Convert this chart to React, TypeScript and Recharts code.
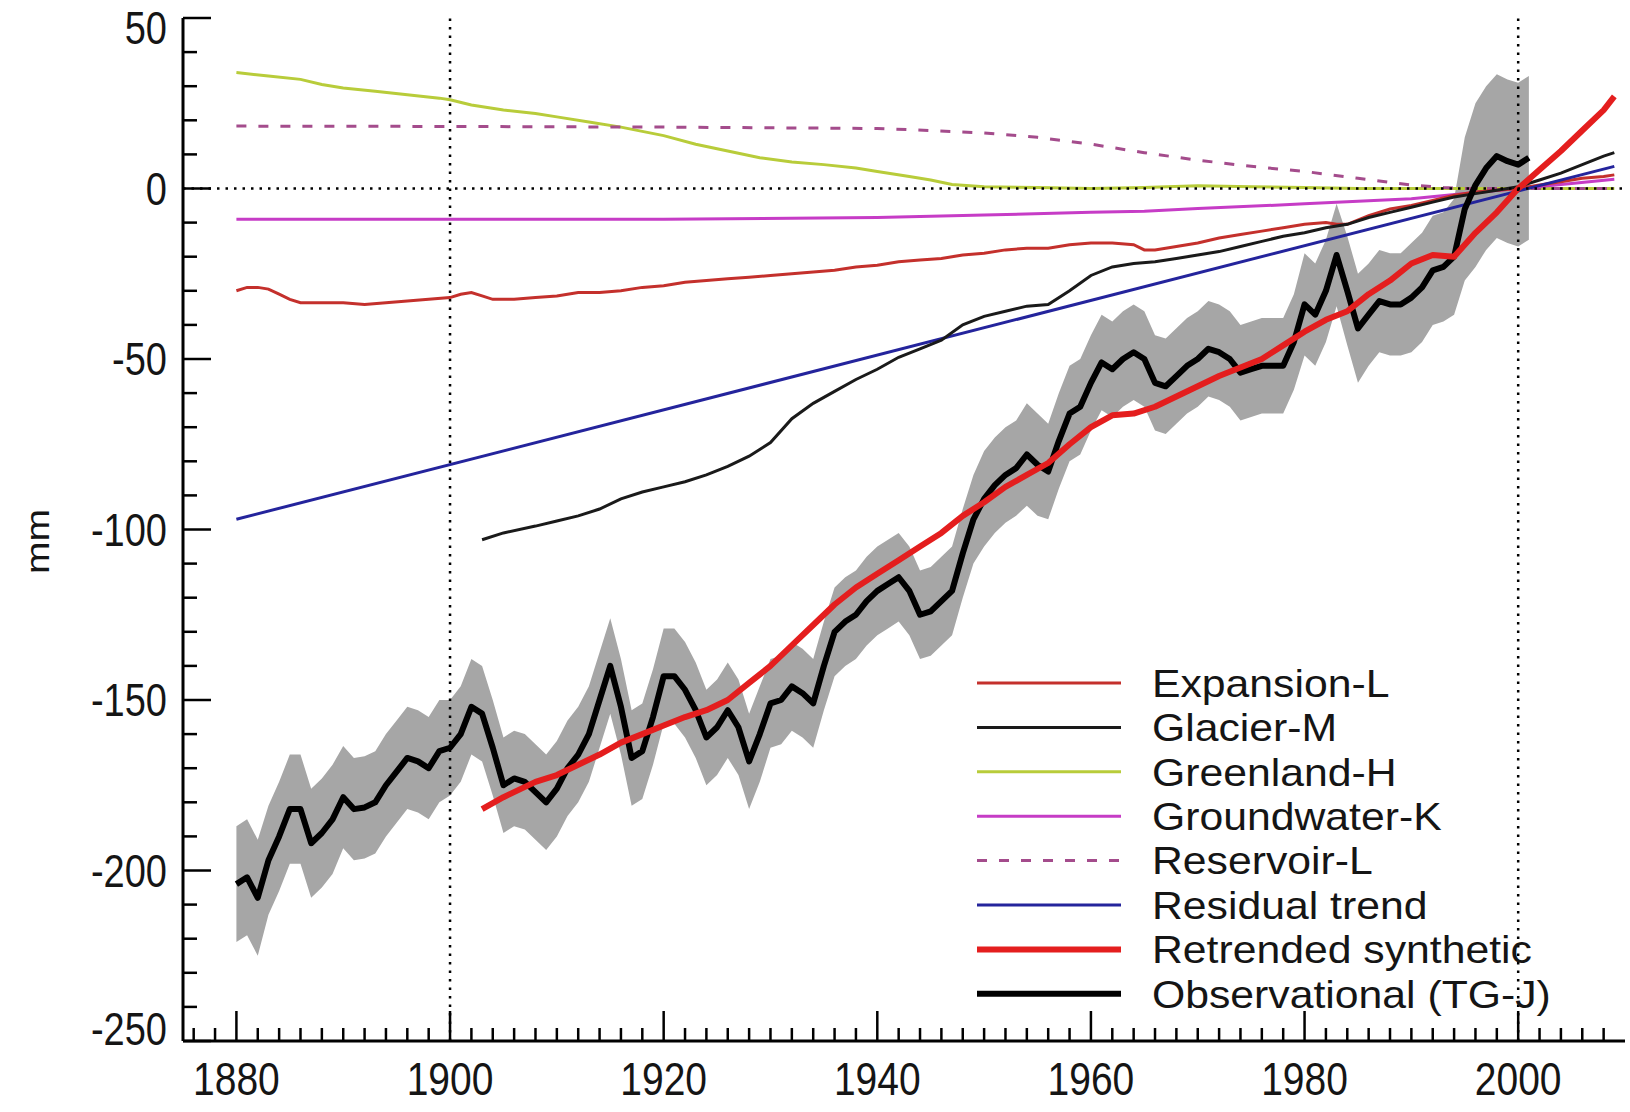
import React from 'react';
import { ComposedChart, Line, Area, XAxis, YAxis, ReferenceLine, Legend } from 'recharts';

// ---------- data ----------
const obsStartYear = 1880;
const obsValues = [
  -204, -202, -208, -197, -190, -182, -182, -192, -189, -185,
  -178.5, -182, -181.5, -180, -175, -171, -167, -168, -170, -165,
  -164, -160, -152, -154, -164, -175, -173, -174, -177, -180,
  -176, -170, -166, -160, -150, -140, -152, -167, -165, -155,
  -143, -143, -147, -153, -161, -158, -153, -158, -168, -160,
  -151, -150, -146, -148, -151, -140, -130, -127, -125, -121,
  -118, -116, -114, -118, -125, -124, -121, -118, -107, -97,
  -91, -87, -84, -82, -78, -81, -83, -74, -66, -64,
  -57, -51, -53, -50, -48, -50, -57, -58, -55, -52,
  -50, -47, -48, -50, -54, -53, -52, -52, -52, -45,
  -34, -37, -30, -19.5, -30, -41, -37, -33, -34, -34,
  -32, -29, -24, -23, -20, -6, 1, 6, 9.5, 8,
  7, 9,
];
const obsUncertainty = [
  17, 17, 17, 16, 16, 16, 16, 16, 16, 16,
  15, 15, 15, 15, 15, 15, 15, 15, 15, 15,
  14, 14, 14, 14, 14, 14, 14, 14, 14, 14,
  14, 14, 14, 14, 14, 14, 14, 14, 14, 14,
  14, 14, 14, 14, 14, 14, 14, 14, 14, 14,
  13, 13, 13, 13, 13, 13, 13, 13, 13, 13,
  13, 13, 13, 13, 13, 13, 13, 13, 13, 13,
  14, 14, 14, 14, 15, 15, 14, 14, 14, 14,
  14, 14, 14, 14, 14, 14, 14, 14, 14, 14,
  14, 14, 14, 14, 14, 14, 14, 14, 14, 14,
  15, 15, 15, 15, 16, 16, 15, 15, 15, 15,
  16, 16, 16, 16, 17, 21, 24, 24, 24, 24,
  24, 24,
];

const expansion: [number, number][] = [
  [1880, -30], [1881, -29], [1882, -29], [1883, -29.5], [1884, -31], [1885, -32.5], [1886, -33.5],
  [1888, -33.5], [1890, -33.5], [1892, -34], [1894, -33.5], [1896, -33], [1898, -32.5], [1900, -32],
  [1901, -31], [1902, -30.5], [1903, -31.5], [1904, -32.5], [1906, -32.5], [1908, -32], [1910, -31.5],
  [1912, -30.5], [1914, -30.5], [1916, -30], [1918, -29], [1920, -28.5], [1922, -27.5], [1924, -27],
  [1926, -26.5], [1928, -26], [1930, -25.5], [1932, -25], [1934, -24.5], [1936, -24], [1938, -23],
  [1940, -22.5], [1942, -21.5], [1944, -21], [1946, -20.5], [1948, -19.5], [1950, -19], [1952, -18],
  [1954, -17.5], [1956, -17.5], [1958, -16.5], [1960, -16], [1962, -16], [1964, -16.5], [1965, -18],
  [1966, -18], [1968, -17], [1970, -16], [1972, -14.5], [1974, -13.5], [1976, -12.5], [1978, -11.5],
  [1980, -10.5], [1982, -10], [1983, -10.5], [1984, -10.5], [1986, -8], [1988, -6], [1990, -5],
  [1992, -3.5], [1994, -2], [1996, -1], [1998, -0.5], [2000, 0], [2002, 1], [2004, 2], [2006, 3],
  [2008, 3.5], [2009, 4],
];

const glacier: [number, number][] = [
  [1903, -103], [1905, -101], [1908, -99], [1910, -97.5], [1912, -96], [1914, -94], [1916, -91],
  [1918, -89], [1920, -87.5], [1922, -86], [1924, -84], [1926, -81.5], [1928, -78.5], [1930, -74.5],
  [1932, -67.5], [1934, -63], [1936, -59.5], [1938, -56], [1940, -53], [1942, -49.5], [1944, -47],
  [1946, -44.5], [1948, -40], [1950, -37.5], [1952, -36], [1954, -34.5], [1956, -34], [1958, -30],
  [1960, -25.5], [1962, -23], [1964, -22], [1966, -21.5], [1968, -20.5], [1970, -19.5], [1972, -18.5],
  [1974, -17], [1976, -15.5], [1978, -14], [1980, -13], [1982, -11.5], [1984, -10.5], [1986, -8.5],
  [1988, -7], [1990, -5.5], [1992, -4], [1994, -2.5], [1996, -1.5], [1998, -0.5], [2000, 0.5],
  [2002, 2.5], [2004, 4.5], [2006, 7], [2008, 9.5], [2009, 10.5],
];

const greenland: [number, number][] = [
  [1880, 34], [1883, 33], [1886, 32], [1888, 30.5], [1890, 29.5], [1893, 28.5], [1896, 27.5],
  [1899, 26.5], [1900, 26], [1902, 24.5], [1905, 23], [1908, 22], [1910, 21], [1913, 19.5],
  [1916, 18], [1920, 15.5], [1923, 13], [1926, 11], [1929, 9], [1932, 7.8], [1935, 7], [1938, 6],
  [1940, 5], [1943, 3.5], [1945, 2.5], [1947, 1.2], [1950, 0.5], [1955, 0.3], [1960, 0], [1965, 0.3],
  [1970, 0.8], [1975, 0.5], [1980, 0.3], [1985, 0], [1990, 0], [1995, 0], [2000, 0], [2005, 0],
  [2009, 0],
];

const groundwater: [number, number][] = [
  [1880, -9], [1900, -9], [1920, -9], [1940, -8.5], [1950, -7.8], [1960, -7], [1965, -6.7],
  [1970, -5.9], [1980, -4.5], [1990, -3], [1995, -1.5], [2000, 0], [2005, 1.5], [2009, 2.7],
];

const reservoir: [number, number][] = [
  [1880, 18.3], [1900, 18.2], [1920, 18], [1940, 17.6], [1945, 17], [1950, 16.3], [1955, 15],
  [1960, 13], [1965, 10.5], [1970, 8.3], [1975, 6.5], [1980, 5], [1985, 3], [1990, 1], [1993, 0.3],
  [1995, 0], [2000, 0], [2009, 0],
];

const residual: [number, number][] = [
  [1880, -97], [2009, 6.5],
];

const retrended: [number, number][] = [
  [1903, -182], [1905, -178.5], [1908, -174], [1910, -172], [1912, -169], [1914, -166], [1916, -162.5],
  [1918, -160], [1920, -157.5], [1922, -155], [1924, -153], [1926, -150], [1928, -145], [1930, -140],
  [1932, -134], [1934, -128], [1936, -122], [1938, -117], [1940, -113], [1942, -109], [1944, -105],
  [1946, -101], [1948, -96], [1950, -92], [1952, -87.5], [1954, -84], [1956, -80.5], [1958, -75],
  [1960, -70], [1962, -66.5], [1964, -66], [1966, -64], [1968, -61], [1970, -58], [1972, -55],
  [1974, -52.5], [1976, -50], [1978, -46], [1980, -42], [1982, -38.5], [1984, -36], [1986, -31],
  [1988, -27], [1990, -22], [1992, -19.5], [1994, -20], [1996, -13], [1998, -7], [2000, 0],
  [2002, 5.5], [2004, 11], [2006, 17], [2008, 23], [2009, 27],
];

const xMajorLabels = [1880, 1900, 1920, 1940, 1960, 1980, 2000];
const xTickYears = [
  1876, 1878, 1880, 1882, 1884, 1886, 1888, 1890, 1892, 1894, 1896, 1898, 1900, 1902, 1904, 1906,
  1908, 1910, 1912, 1914, 1916, 1918, 1920, 1922, 1924, 1926, 1928, 1930, 1932, 1934, 1936, 1938,
  1940, 1942, 1944, 1946, 1948, 1950, 1952, 1954, 1956, 1958, 1960, 1962, 1964, 1966, 1968, 1970,
  1972, 1974, 1976, 1978, 1980, 1982, 1984, 1986, 1988, 1990, 1992, 1994, 1996, 1998, 2000, 2002,
  2004, 2006, 2008,
];
const yMajorLabels = [50, 0, -50, -100, -150, -200, -250];
const yTickValues = [
  50, 40, 30, 20, 10, 0, -10, -20, -30, -40, -50, -60, -70, -80, -90, -100, -110, -120, -130, -140,
  -150, -160, -170, -180, -190, -200, -210, -220, -230, -240, -250,
];

// ---------- tables built for recharts ----------
const toRows = (pairs: [number, number][]) => pairs.map(([year, v]) => ({ year, v }));
const obsRows = obsValues.map((v, i) => ({ year: obsStartYear + i, v }));
const bandRows = obsValues.map((v, i) => ({
  year: obsStartYear + i,
  range: [v - obsUncertainty[i], v + obsUncertainty[i]],
}));

const FONT = '"Liberation Sans", Arial, Helvetica, sans-serif';
const TEXT_FILL = '#151515';
const C = {
  expansion: '#c4302c',
  glacier: '#1a1a1a',
  greenland: '#b8cc3a',
  groundwater: '#c63cc6',
  reservoir: '#a44c8c',
  residual: '#24249c',
  retrended: '#e41e1e',
  obs: '#000000',
  band: '#a6a6a6',
};

const legendItems = [
  { name: 'Expansion-L', color: C.expansion, width: 3, dash: undefined as string | undefined },
  { name: 'Glacier-M', color: C.glacier, width: 3, dash: undefined },
  { name: 'Greenland-H', color: C.greenland, width: 3, dash: undefined },
  { name: 'Groundwater-K', color: C.groundwater, width: 3, dash: undefined },
  { name: 'Reservoir-L', color: C.reservoir, width: 3, dash: '10 12' },
  { name: 'Residual trend', color: C.residual, width: 3, dash: undefined },
  { name: 'Retrended synthetic', color: C.retrended, width: 6, dash: undefined },
  { name: 'Observational (TG-J)', color: C.obs, width: 6, dash: undefined },
];

const TICK_W = 2.5;
const STRETCH = 1.2;

const BottomTick = (props: any) => {
  const { x, y, payload } = props;
  const v = payload.value;
  const major = xMajorLabels.includes(v);
  return (
    <g>
      <line x1={x} y1={y} x2={x} y2={y - (major ? 30 : 13)} stroke="#000" strokeWidth={TICK_W} />
      {major && (
        <text x={0} y={0} transform={`translate(${x}, ${y + 54}) scale(1, ${STRETCH})`}
          textAnchor="middle" fontSize={39} fontFamily={FONT} fill={TEXT_FILL}>
          {v}
        </text>
      )}
    </g>
  );
};

const TopTick = (props: any) => {
  const { x, y, payload } = props;
  const major = xMajorLabels.includes(payload.value);
  return <line x1={x} y1={y} x2={x} y2={y + (major ? 30 : 13)} stroke="#000" strokeWidth={TICK_W} />;
};

const LeftTick = (props: any) => {
  const { x, y, payload } = props;
  const v = payload.value;
  const major = yMajorLabels.includes(v);
  const shift = v === 50 ? 10 : v === -250 ? -12 : 0;
  return (
    <g>
      <line x1={x} y1={y} x2={x + (major ? 28 : 14)} y2={y} stroke="#000" strokeWidth={TICK_W} />
      {major && (
        <text x={0} y={0} dy="0.36em" transform={`translate(${x - 16}, ${y + shift}) scale(1, ${STRETCH})`}
          textAnchor="end" fontSize={38} fontFamily={FONT} fill={TEXT_FILL}>
          {v}
        </text>
      )}
    </g>
  );
};

const RightTick = (props: any) => {
  const { x, y, payload } = props;
  const major = yMajorLabels.includes(payload.value);
  return <line x1={x} y1={y} x2={x - (major ? 28 : 14)} y2={y} stroke="#000" strokeWidth={TICK_W} />;
};

const MmLabel = (props: any) => {
  const vb = props.viewBox || { x: 0, y: 18, width: 183, height: 1023 };
  const cx = 37;
  const cy = vb.y + vb.height / 2 + 12;
  return (
    <text x={0} y={0} dy="0.36em" textAnchor="middle" fontSize={34} fontFamily={FONT} fill={TEXT_FILL}
      transform={`translate(${cx}, ${cy}) rotate(-90) scale(1.15, 1)`}>
      mm
    </text>
  );
};

const LegendContent = () => (
  <svg width={660} height={380} style={{ overflow: 'visible' }}>
    {legendItems.map((it, i) => {
      const cy = 28 + i * 44.4;
      return (
        <g key={it.name}>
          <line x1={7} x2={151} y1={cy} y2={cy} stroke={it.color} strokeWidth={it.width} strokeDasharray={it.dash} />
          <text x={0} y={0} dy="0.36em" transform={`translate(182, ${cy}) scale(1.11, 1)`}
            fontSize={38.5} fontFamily={FONT} fill={TEXT_FILL}>
            {it.name}
          </text>
        </g>
      );
    })}
  </svg>
);

const dotted = { stroke: '#000', strokeDasharray: '2.5 6', strokeWidth: 2.5 };
const thin = 3;

export default function App() {
  return (
    <div style={{ position: 'absolute', left: 0, top: 0, width: 1630, height: 1112, background: '#fff' }}>
      <ComposedChart width={1630} height={1112} margin={{ top: 18, right: 5, bottom: 0, left: 0 }}>
        <XAxis
          xAxisId="main" type="number" dataKey="year" domain={[1875, 2010]} allowDataOverflow
          ticks={xTickYears} interval={0} tickSize={0} tickMargin={0} tickLine={false}
          tick={<BottomTick />} height={71} axisLine={{ stroke: '#000', strokeWidth: 3 }}
        />
        <XAxis
          xAxisId="top" orientation="top" type="number" dataKey="year" domain={[1875, 2010]} allowDataOverflow
          ticks={xTickYears} interval={0} tickSize={0} tickMargin={0} tickLine={false}
          tick={<TopTick />} height={0} axisLine={{ stroke: '#000', strokeWidth: 3 }}
        />
        <YAxis
          yAxisId="left" type="number" domain={[-250, 50]} allowDataOverflow
          ticks={yTickValues} interval={0} tickSize={0} tickMargin={0} tickLine={false}
          tick={<LeftTick />} width={183} axisLine={{ stroke: '#000', strokeWidth: 3 }}
          label={<MmLabel />}
        />
        <YAxis
          yAxisId="right" orientation="right" type="number" domain={[-250, 50]} allowDataOverflow
          ticks={yTickValues} interval={0} tickSize={0} tickMargin={0} tickLine={false}
          tick={<RightTick />} width={0} axisLine={{ stroke: '#000', strokeWidth: 3 }}
        />

        <Area data={bandRows} dataKey="range" xAxisId="main" yAxisId="left" type="linear"
          stroke="none" fill={C.band} fillOpacity={1} isAnimationActive={false} activeDot={false} />

        <Line data={toRows(greenland)} dataKey="v" xAxisId="main" yAxisId="left" type="linear"
          stroke={C.greenland} strokeWidth={thin} dot={false} activeDot={false} isAnimationActive={false} />
        <Line data={toRows(reservoir)} dataKey="v" xAxisId="main" yAxisId="left" type="linear"
          stroke={C.reservoir} strokeWidth={3} strokeDasharray="10 12" dot={false} activeDot={false} isAnimationActive={false} />
        <Line data={toRows(groundwater)} dataKey="v" xAxisId="main" yAxisId="left" type="linear"
          stroke={C.groundwater} strokeWidth={thin} dot={false} activeDot={false} isAnimationActive={false} />
        <Line data={toRows(expansion)} dataKey="v" xAxisId="main" yAxisId="left" type="linear"
          stroke={C.expansion} strokeWidth={thin} dot={false} activeDot={false} isAnimationActive={false} />
        <Line data={toRows(residual)} dataKey="v" xAxisId="main" yAxisId="left" type="linear"
          stroke={C.residual} strokeWidth={thin} dot={false} activeDot={false} isAnimationActive={false} />
        <Line data={toRows(glacier)} dataKey="v" xAxisId="main" yAxisId="left" type="linear"
          stroke={C.glacier} strokeWidth={thin} dot={false} activeDot={false} isAnimationActive={false} />
        <Line data={obsRows} dataKey="v" xAxisId="main" yAxisId="left" type="linear"
          stroke={C.obs} strokeWidth={6} strokeLinejoin="round" dot={false} activeDot={false} isAnimationActive={false} />
        <Line data={toRows(retrended)} dataKey="v" xAxisId="main" yAxisId="left" type="linear"
          stroke={C.retrended} strokeWidth={6} strokeLinejoin="round" dot={false} activeDot={false} isAnimationActive={false} />

        <ReferenceLine y={0} xAxisId="main" yAxisId="left" {...dotted} />
        <ReferenceLine x={1900} xAxisId="main" yAxisId="left" {...dotted} />
        <ReferenceLine x={2000} xAxisId="main" yAxisId="left" {...dotted} />

        <Legend layout="vertical" align="center" verticalAlign="middle" content={<LegendContent />}
          wrapperStyle={{ left: 970, top: 655, width: 660, height: 380 }} />
      </ComposedChart>
    </div>
  );
}
